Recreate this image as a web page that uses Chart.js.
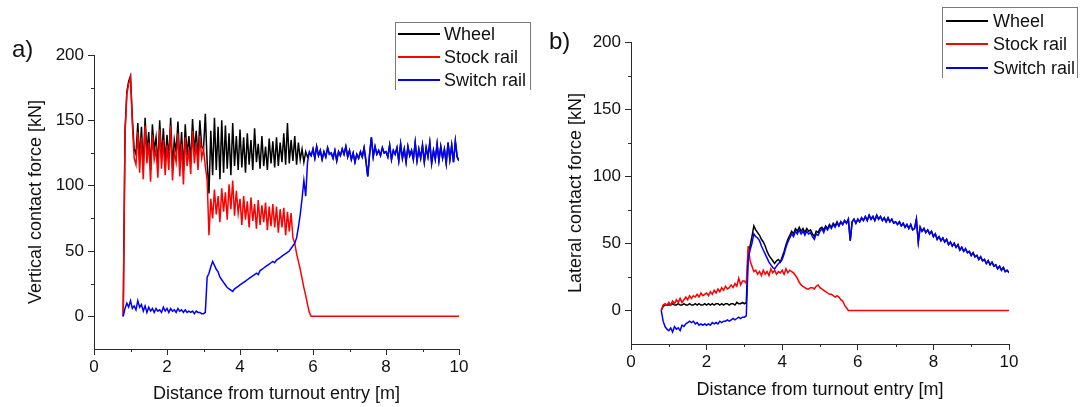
<!DOCTYPE html>
<html>
<head>
<meta charset="utf-8">
<script src="https://cdn.jsdelivr.net/npm/chart.js@4.4.1/dist/chart.umd.min.js"></script>
<style>
    body { margin: 0; background: #ffffff; font-family: "Liberation Sans", Arial, sans-serif; }
    #page { position: relative; width: 1082px; height: 407px; overflow: hidden; }
    .panel { position: absolute; top: 0; width: 541px; height: 407px; }
    .tag { position: absolute; font-size: 24px; line-height: 24px; color: #111; }
    .legend { position: absolute; box-sizing: border-box; border: 1px solid #7a7a7a; border-bottom: none; }
    .legend-row { position: absolute; left: 0; height: 22px; line-height: 22px; font-size: 18px; color: #111; white-space: nowrap; }
    .legend-line { position: absolute; top: 10px; height: 2px; }
    .legend-text { position: absolute; top: 0; }
</style>
</head>
<body>
<div id="page">
    <canvas id="vertical-force-chart" class="panel" style="left:0" width="541" height="407"></canvas>
    <canvas id="lateral-force-chart" class="panel" style="left:541px" width="541" height="407"></canvas>
    <div class="tag" style="left:12px; top:37px">a)</div>
    <div class="tag" style="left:549px; top:29px">b)</div>
    <div id="legend-vertical" class="legend" style="left:395px; top:22px; width:136px; height:68px"></div>
    <div id="legend-lateral" class="legend" style="left:942px; top:7px; width:136px; height:71px"></div>
</div>
<script>
// distance along the turnout [m]
const distance = [
    0.8, 0.85, 0.9, 0.95,
    1, 1.05, 1.1, 1.15, 1.2, 1.25, 1.3, 1.35, 1.4, 1.45, 1.5, 1.55, 1.6, 1.65, 1.7, 1.75, 1.8, 1.85, 1.9, 1.95,
    2, 2.05, 2.1, 2.15, 2.2, 2.25, 2.3, 2.35, 2.4, 2.45, 2.5, 2.55, 2.6, 2.65, 2.7, 2.75, 2.8, 2.85, 2.9, 2.95,
    3, 3.05, 3.1, 3.15, 3.2, 3.25, 3.3, 3.35, 3.4, 3.45, 3.5, 3.55, 3.6, 3.65, 3.7, 3.75, 3.8, 3.85, 3.9, 3.95,
    4, 4.05, 4.1, 4.15, 4.2, 4.25, 4.3, 4.35, 4.4, 4.45, 4.5, 4.55, 4.6, 4.65, 4.7, 4.75, 4.8, 4.85, 4.9, 4.95,
    5, 5.05, 5.1, 5.15, 5.2, 5.25, 5.3, 5.35, 5.4, 5.45, 5.5, 5.55, 5.6, 5.65, 5.7, 5.75, 5.8, 5.85, 5.9, 5.95,
    6, 6.05, 6.1, 6.15, 6.2, 6.25, 6.3, 6.35, 6.4, 6.45, 6.5, 6.55, 6.6, 6.65, 6.7, 6.75, 6.8, 6.85, 6.9, 6.95,
    7, 7.05, 7.1, 7.15, 7.2, 7.25, 7.3, 7.35, 7.4, 7.45, 7.5, 7.55, 7.6, 7.65, 7.7, 7.75, 7.8, 7.85, 7.9, 7.95,
    8, 8.05, 8.1, 8.15, 8.2, 8.25, 8.3, 8.35, 8.4, 8.45, 8.5, 8.55, 8.6, 8.65, 8.7, 8.75, 8.8, 8.85, 8.9, 8.95,
    9, 9.05, 9.1, 9.15, 9.2, 9.25, 9.3, 9.35, 9.4, 9.45, 9.5, 9.55, 9.6, 9.65, 9.7, 9.75, 9.8, 9.85, 9.9, 9.95,
    10
];

// a) vertical contact force [kN]
const wheelVertical = [
    0, 142, 172, 180,
    184, 152, 128, 124, 148, 120, 145, 114, 152, 126, 141, 112, 147, 127, 137, 115, 150, 121, 144, 118,
    139, 120, 152, 114, 135, 126, 149, 117, 141, 111, 147, 123, 138, 118, 151, 126, 142, 121, 150, 130,
    128, 155, 118, 94, 142, 108, 152, 112, 145, 105, 150, 110, 146, 113, 140, 108, 148, 115, 138, 112,
    143, 114, 137, 110, 140, 116, 135, 112, 144, 118, 132, 113, 138, 115, 130, 112, 136, 117, 134, 114,
    137, 115, 133, 118, 140, 116, 148, 117, 135, 119, 138, 116, 133, 120, 128, 118, 126, 122, 125, 123,
    128, 121, 130, 123, 127, 120, 126, 122, 129, 124, 125, 121, 127, 119, 126, 123, 128, 124, 130, 122,
    127, 120, 125, 118, 124, 121, 126, 122, 129, 119, 107, 124, 137, 122, 130, 124, 127, 123, 129, 125,
    126, 122, 131, 120, 127, 124, 129, 119, 132, 121, 128, 118, 130, 123, 127, 120, 133, 119, 128, 121,
    131, 118, 129, 122, 133, 117, 127, 120, 132, 119, 130, 121, 128, 117, 133, 120, 131, 118, 134, 122,
    119
];
const stockVertical = [
    0, 140, 170, 178,
    183, 148, 121, 116, 141, 110, 137, 105, 146, 117, 133, 103, 139, 120, 128, 106, 143, 113, 135, 108,
    131, 112, 146, 104, 126, 118, 140, 107, 132, 101, 137, 115, 128, 109, 142, 117, 133, 112, 138, 121,
    128, 115, 104, 62, 90, 75, 97, 78, 92, 72, 98, 80, 95, 74, 101, 82, 104, 77, 96, 79,
    90, 70, 92, 74, 88, 68, 91, 73, 86, 67, 89, 70, 85, 72, 87, 66, 84, 69, 86, 68,
    84, 64, 82, 68, 83, 62, 80, 65, 79, 60, 56, 48, 42, 36, 29, 22, 16, 9, 3, 0,
    0, 0, 0, 0, 0, 0, 0, 0, 0, 0, 0, 0, 0, 0, 0, 0, 0, 0, 0, 0,
    0, 0, 0, 0, 0, 0, 0, 0, 0, 0, 0, 0, 0, 0, 0, 0, 0, 0, 0, 0,
    0, 0, 0, 0, 0, 0, 0, 0, 0, 0, 0, 0, 0, 0, 0, 0, 0, 0, 0, 0,
    0, 0, 0, 0, 0, 0, 0, 0, 0, 0, 0, 0, 0, 0, 0, 0, 0, 0, 0, 0,
    0
];
const switchVertical = [
    0, 6, 10, 7,
    12, 6, 8, 5, 12, 7, 9, 4, 8, 3, 7, 4, 6, 3, 6, 4, 5, 3, 7, 4,
    6, 3, 6, 4, 5, 3, 6, 4, 5, 3, 5, 3, 4, 3, 4, 2, 4, 3, 3, 2,
    2, 3, 30, 33, 38, 42, 39, 36, 34, 30, 28, 26, 24, 22, 21, 20, 19, 21, 22, 23,
    24, 25, 26, 27, 28, 29, 30, 31, 32, 33, 32, 35, 36, 37, 38, 39, 40, 41, 42, 41,
    43, 44, 45, 46, 47, 48, 49, 50, 52, 54, 56, 60, 68, 78, 90, 104, 92, 118, 126, 123,
    128, 121, 130, 123, 127, 120, 126, 122, 129, 124, 125, 121, 127, 119, 126, 123, 128, 124, 130, 122,
    127, 120, 125, 118, 124, 121, 126, 122, 129, 119, 107, 124, 137, 122, 130, 124, 127, 123, 129, 125,
    126, 122, 131, 120, 127, 124, 129, 119, 132, 121, 128, 118, 130, 123, 127, 120, 133, 119, 128, 121,
    131, 118, 129, 122, 133, 117, 127, 120, 132, 119, 130, 121, 128, 117, 133, 120, 131, 118, 134, 122,
    119
];

// b) lateral contact force [kN]
const wheelLateral = [
    0, 3, 4, 4,
    4, 4, 5, 4, 4, 5, 4, 4, 5, 4, 4, 5, 4, 4, 5, 4, 5, 4, 4, 5,
    4, 5, 4, 5, 4, 5, 5, 4, 5, 4, 5, 5, 4, 5, 5, 4, 6, 5, 5, 6,
    5, 6, 44, 48, 55, 63, 60, 58, 56, 53, 51, 48, 44, 41, 39, 37, 35, 37, 38, 36,
    40, 44, 49, 53, 56, 59, 57, 61, 59, 62, 59, 61, 58, 61, 59, 60, 57, 55, 59, 58,
    61, 62, 60, 63, 61, 64, 62, 65, 63, 66, 63, 66, 64, 67, 65, 68, 52, 66, 68, 65,
    68, 66, 69, 67, 70, 67, 71, 68, 70, 67, 71, 68, 70, 67, 69, 66, 69, 66, 68, 65,
    66, 64, 66, 63, 65, 62, 64, 61, 64, 60, 61, 68, 51, 62, 59, 61, 58, 60, 57, 59,
    55, 57, 53, 55, 52, 54, 51, 53, 49, 51, 48, 50, 47, 49, 45, 47, 44, 46, 43, 44,
    41, 43, 40, 41, 38, 40, 37, 38, 35, 37, 34, 36, 33, 34, 31, 33, 30, 32, 29, 30,
    28
];
const stockLateral = [
    0, 4, 5, 4,
    6, 4, 7, 5, 8, 6, 9, 6, 8, 10, 8, 11, 9, 11, 10, 12, 10, 13, 11, 12,
    13, 11, 14, 12, 15, 13, 16, 14, 17, 15, 18, 16, 17, 19, 17, 20, 18, 24, 19, 22,
    22, 20, 48, 37, 33, 29, 30, 27, 29, 26, 30, 27, 29, 26, 31, 28, 30, 27, 29, 28,
    30, 27, 31, 28, 30, 29, 28, 26, 24, 21, 19, 18, 17, 16, 16, 17, 17, 16, 18, 19,
    17, 16, 15, 14, 13, 12, 12, 11, 10, 11, 10, 8, 7, 4, 2, 0, 0, 0, 0, 0,
    0, 0, 0, 0, 0, 0, 0, 0, 0, 0, 0, 0, 0, 0, 0, 0, 0, 0, 0, 0,
    0, 0, 0, 0, 0, 0, 0, 0, 0, 0, 0, 0, 0, 0, 0, 0, 0, 0, 0, 0,
    0, 0, 0, 0, 0, 0, 0, 0, 0, 0, 0, 0, 0, 0, 0, 0, 0, 0, 0, 0,
    0, 0, 0, 0, 0, 0, 0, 0, 0, 0, 0, 0, 0, 0, 0, 0, 0, 0, 0, 0,
    0
];
const switchLateral = [
    0, -8, -12, -14,
    -15, -13, -16, -12, -14, -13, -15, -11, -12, -10, -9, -8, -9, -8, -10, -9, -11, -10, -11, -10,
    -11, -10, -11, -9, -10, -9, -10, -8, -9, -8, -8, -7, -8, -7, -6, -7, -6, -5, -6, -5,
    -5, -4, 38, 45, 50, 57, 55, 54, 52, 48, 45, 42, 39, 36, 34, 32, 31, 33, 35, 36,
    38, 42, 47, 51, 54, 57, 55, 59, 57, 60, 57, 59, 56, 59, 57, 58, 55, 53, 57, 56,
    59, 61, 58, 62, 60, 63, 61, 64, 62, 65, 63, 66, 64, 67, 65, 68, 52, 66, 68, 65,
    68, 66, 69, 67, 70, 67, 71, 68, 70, 67, 71, 68, 70, 67, 69, 66, 69, 66, 68, 65,
    66, 64, 66, 63, 65, 62, 64, 61, 64, 60, 61, 68, 51, 62, 59, 61, 58, 60, 57, 59,
    55, 57, 53, 55, 52, 54, 51, 53, 49, 51, 48, 50, 47, 49, 45, 47, 44, 46, 43, 44,
    41, 43, 40, 41, 38, 40, 37, 38, 35, 37, 34, 36, 33, 34, 31, 33, 30, 32, 29, 30,
    28
];

const seriesNames = ['Wheel', 'Stock rail', 'Switch rail'];
const seriesColors = ['#000000', '#ff0000', '#0000ff'];
const xTicks = [0, 2, 4, 6, 8, 10];
const xMinorTicks = [1, 3, 5, 7, 9];
const yTicks = [0, 50, 100, 150, 200];
const yMinorTicks = [25, 75, 125, 175];
const axisColor = '#2a2a2a';

const forceChartHandler = function () {
    this.initialize = function () {
        Chart.defaults.font.family = '"Liberation Sans", Arial, sans-serif';
        Chart.defaults.color = '#111';
        _this.vertical = _this.loadForceChart('vertical-force-chart', 'Vertical contact force [kN]',
            [wheelVertical, stockVertical, switchVertical],
            { top: 55, right: 82, yWidth: 94, xHeight: 58, yTitle: 25, xTitle: 2 });
        _this.lateral = _this.loadForceChart('lateral-force-chart', 'Lateral contact force [kN]',
            [wheelLateral, stockLateral, switchLateral],
            { top: 42, right: 73, yWidth: 90, xHeight: 63, yTitle: 24, xTitle: 6 });
        _this.buildLegend('legend-vertical', _this.vertical, [11, 34, 57], 2, 48);
        _this.buildLegend('legend-lateral', _this.lateral, [13, 36, 60], 3, 50);
    };

    // small unlabelled ticks between the labelled ones
    const minorTickPlugin = {
        id: 'minorTicks',
        afterDraw(chart) {
            const ctx = chart.ctx;
            const xScale = chart.scales.x;
            const yScale = chart.scales.y;
            ctx.save();
            ctx.strokeStyle = axisColor;
            ctx.lineWidth = 1;
            ctx.beginPath();
            xMinorTicks.forEach(v => {
                const px = Math.round(xScale.getPixelForValue(v)) + 0.5;
                ctx.moveTo(px, xScale.top);
                ctx.lineTo(px, xScale.top + 3);
            });
            yMinorTicks.forEach(v => {
                const py = Math.round(yScale.getPixelForValue(v)) + 0.5;
                ctx.moveTo(yScale.right, py);
                ctx.lineTo(yScale.right - 3, py);
            });
            ctx.stroke();
            ctx.restore();
        }
    };

    this.loadForceChart = function (canvasId, yTitle, values, frame) {
        // wheel drawn first, switch rail last (on top)
        const datasets = values.map((data, i) => ({
            label: seriesNames[i],
            data: data,
            borderColor: seriesColors[i],
            borderWidth: 1.5,
            pointRadius: 0,
            tension: 0,
            order: 3 - i
        }));
        return new Chart(canvasId, {
            type: 'line',
            data: { labels: distance, datasets: datasets },
            options: {
                responsive: false,
                animation: false,
                devicePixelRatio: 1,
                layout: { padding: { top: frame.top, right: frame.right, left: 0, bottom: 0 } },
                plugins: { legend: { display: false }, tooltip: { enabled: false } },
                scales: {
                    x: {
                        type: 'linear',
                        min: 0,
                        max: 10,
                        afterBuildTicks: axis => { axis.ticks = xTicks.map(v => ({ value: v })); },
                        afterFit: axis => { axis.height = frame.xHeight; },
                        grid: { drawOnChartArea: false, tickLength: 6, tickColor: axisColor, tickWidth: 1 },
                        border: { color: axisColor, width: 1 },
                        ticks: { font: { size: 17 }, padding: 2, maxRotation: 0, color: '#111' },
                        title: {
                            display: true,
                            text: 'Distance from turnout entry [m]',
                            font: { size: 18 },
                            color: '#111',
                            padding: { top: 0, bottom: frame.xTitle }
                        }
                    },
                    y: {
                        min: -25,
                        max: 200,
                        afterBuildTicks: axis => { axis.ticks = yTicks.map(v => ({ value: v })); },
                        afterFit: axis => { axis.width = frame.yWidth; },
                        grid: { drawOnChartArea: false, tickLength: 6, tickColor: axisColor, tickWidth: 1 },
                        border: { color: axisColor, width: 1 },
                        ticks: { font: { size: 17 }, padding: 4, color: '#111' },
                        title: {
                            display: true,
                            text: yTitle,
                            font: { size: 18 },
                            color: '#111',
                            padding: { top: frame.yTitle, bottom: 0 }
                        }
                    }
                }
            },
            plugins: [minorTickPlugin]
        });
    };

    this.buildLegend = function (boxId, chart, rowTops, lineLeft, textLeft) {
        const box = document.getElementById(boxId);
        chart.data.datasets.forEach((ds, i) => {
            const row = document.createElement('div');
            row.className = 'legend-row';
            row.style.top = (rowTops[i] - 11) + 'px';
            const line = document.createElement('span');
            line.className = 'legend-line';
            line.style.left = lineLeft + 'px';
            line.style.width = '42px';
            line.style.background = ds.borderColor;
            if (i > 0) line.style.height = '1.5px';
            const text = document.createElement('span');
            text.className = 'legend-text';
            text.style.left = textLeft + 'px';
            text.textContent = ds.label;
            row.appendChild(line);
            row.appendChild(text);
            box.appendChild(row);
        });
    };

    const _this = this;
    this.initialize();
};

window.addEventListener('load', function () {
    new forceChartHandler();
});
</script>
</body>
</html>
